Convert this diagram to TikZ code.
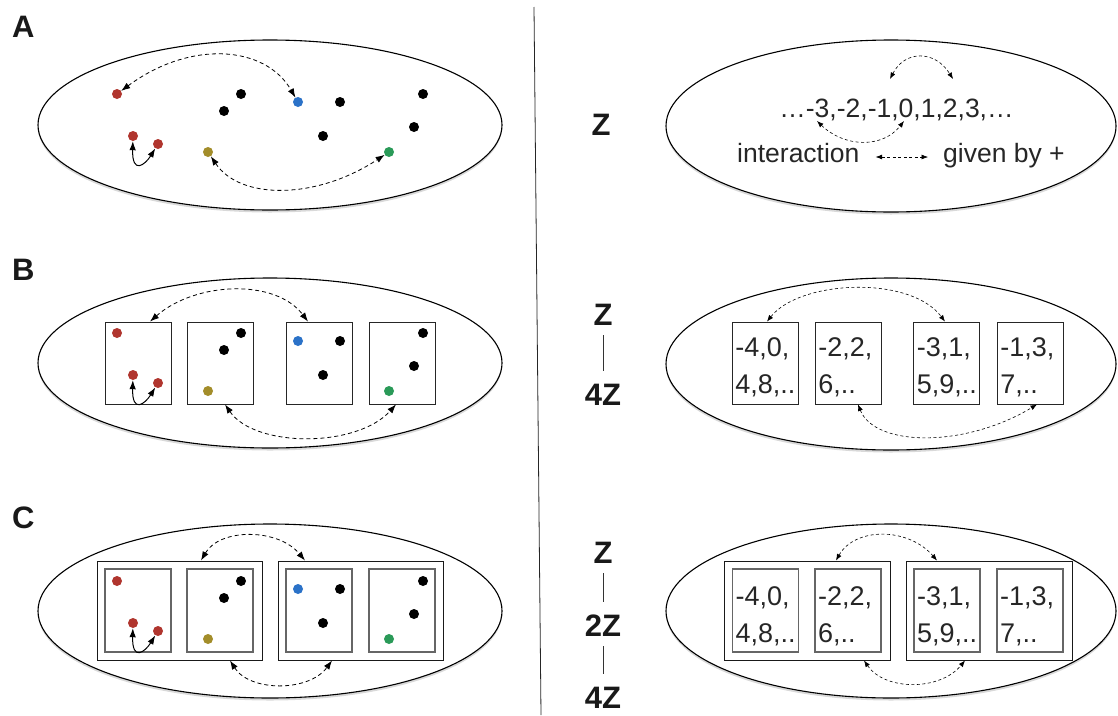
\documentclass[tikz,border=0pt]{standalone}
\usepackage{fontspec}
\setmainfont{Liberation Sans}
\usetikzlibrary{arrows.meta,shapes.geometric,shadows}
\definecolor{dred}{HTML}{B0352E}
\definecolor{dblue}{HTML}{2B72C8}
\definecolor{dolive}{HTML}{A38D2A}
\definecolor{dgreen}{HTML}{2A9A58}
\begin{document}
\begin{tikzpicture}[x=1pt,y=-1pt,
  dot/.style={circle,inner sep=0pt,minimum size=10pt,draw=none},
  ell/.style={ellipse,draw=black,line width=1.1pt,fill=white,inner sep=0pt,
    drop shadow={shadow xshift=0pt,shadow yshift=-2.5pt,opacity=0.3}},
  pbox/.style={rectangle,draw=black!85,line width=0.9pt,minimum width=66pt,minimum height=82pt,inner sep=0pt},
  obox/.style={rectangle,draw=black!90,line width=1pt,minimum width=165pt,minimum height=99pt,inner sep=0pt},
  ibox/.style={rectangle,draw=black!60,line width=1.3pt,minimum width=66pt,minimum height=83pt,inner sep=0pt},
  numtxt/.style={anchor=west,align=left,inner sep=0pt,text=black!85,font=\fontsize{27}{37}\selectfont},
  seqtxt/.style={inner sep=0pt,text=black!85,font=\fontsize{26.5}{31}\selectfont},
  lbl/.style={inner sep=0pt,anchor=base west,text=black!90,font=\fontsize{31}{36}\selectfont\bfseries},
  zl/.style={inner sep=0pt,anchor=base,text=black!90,font=\fontsize{31}{36}\selectfont\bfseries},
  zline/.style={line width=0.8pt,black!80,shorten <=10pt,shorten >=12pt},
  darrL/.style={dash pattern=on 4pt off 3pt,line width=0.8pt,{Latex[length=9pt,width=6.5pt]}-{Latex[length=9pt,width=6.5pt]}},
  darrR/.style={dash pattern=on 3pt off 2.5pt,line width=0.6pt,{Latex[length=6.5pt,width=5pt]}-{Latex[length=6.5pt,width=5pt]}},
  sarr/.style={line width=1pt,{Latex[length=9pt,width=6.5pt]}-{Latex[length=9pt,width=6.5pt]}}
]
\useasboundingbox (0,0) rectangle (1118,715);

% divider
\draw[line width=0.8pt,black!85] (534,7) -- (541,715);

% panel labels
\node[lbl] (LA) at (12,37) {A};
\node[lbl] (LB) at (12,280) {B};
\node[lbl] (LC) at (12,528) {C};

% ellipses
\node[ell,minimum width=464pt,minimum height=170pt] (eA) at (270,125) {};
\node[ell,minimum width=464pt,minimum height=170pt] (eB) at (270,363) {};
\node[ell,minimum width=464pt,minimum height=174pt] (eC) at (270,611) {};
\node[ell,minimum width=450pt,minimum height=172pt] (fA) at (891,126) {};
\node[ell,minimum width=450pt,minimum height=172pt] (fB) at (891,364) {};
\node[ell,minimum width=450pt,minimum height=174pt] (fC) at (891,611) {};

% left B boxes
\node[pbox] (b1B) at (138,363) {};
\node[pbox] (b2B) at (220,363) {};
\node[pbox] (b3B) at (319,363) {};
\node[pbox] (b4B) at (402,363) {};
% left C boxes
\node[obox] (o1C) at (179.5,610.5) {};
\node[obox] (o2C) at (360.5,610.5) {};
\node[ibox] (b1C) at (138,610.5) {};
\node[ibox] (b2C) at (220,610.5) {};
\node[ibox] (b3C) at (319,610.5) {};
\node[ibox] (b4C) at (402,610.5) {};

% dots
\foreach \p/\dy in {A/0,B/239,C/487}{
  \node[dot,fill=dred] (r1\p) at (117,94+\dy) {};
  \node[dot,fill=dred] (r2\p) at (133,136+\dy) {};
  \node[dot,fill=dred] (r3\p) at (158,144+\dy) {};
  \node[dot,fill=black] (k1\p) at (241,94+\dy) {};
  \node[dot,fill=black] (k2\p) at (224,111+\dy) {};
  \node[dot,fill=dolive] (ol\p) at (208,152+\dy) {};
  \node[dot,fill=dblue] (bl\p) at (298,102+\dy) {};
  \node[dot,fill=black] (k3\p) at (340,102+\dy) {};
  \node[dot,fill=black] (k4\p) at (323,136+\dy) {};
  \node[dot,fill=black] (k5\p) at (423,94+\dy) {};
  \node[dot,fill=black] (k6\p) at (414,127+\dy) {};
  \node[dot,fill=dgreen] (gr\p) at (389,152+\dy) {};
  \draw[sarr] (r2\p) .. controls (132,175+\dy) and (145,165+\dy) .. (r3\p);
}

% left arrows
\draw[darrL] (r1A) .. controls (190,40) and (265,45) .. (blA);
\draw[darrL] (olA) .. controls (240,200) and (316,200) .. (grA);
\draw[darrL] ([xshift=12pt]b1B.north) .. controls (195,282) and (275,278) .. ([xshift=-11pt]b3B.north);
\draw[darrL] ([xshift=5pt]b2B.south) .. controls (255,448) and (357,448) .. ([xshift=-6pt]b4B.south);
\draw[darrL] ([xshift=21.5pt]o1C.north) .. controls (220,528) and (278,528) .. ([xshift=-55.5pt]o2C.north);
\draw[darrL] ([xshift=50.5pt]o1C.south) .. controls (250,692) and (309,692) .. ([xshift=-28.5pt]o2C.south);

% Z labels
\node[zl] (zA) at (601,135) {Z};
\node[zl] (zB) at (603,325) {Z};
\node[zl] (z4B) at (603,405) {4Z};
\draw[zline] (zB) -- (z4B);
\node[zl] (zC) at (603,563) {Z};
\node[zl] (z2C) at (603,636) {2Z};
\node[zl] (z4C) at (603,708) {4Z};
\draw[zline] (zC) -- (z2C);
\draw[zline] (z2C) -- (z4C);

% right A
\node[seqtxt,anchor=base] (seq) at (896.5,117) {…-3,-2,-1,0,1,2,3,…};
\coordinate (m1) at (890,79);
\coordinate (p2) at (953,79);
\coordinate (m3) at (817,121);
\coordinate (z0) at (904,121);
\draw[darrR] (m1) .. controls (905,50) and (935,50) .. (p2);
\draw[darrR] (m3) .. controls (845,148) and (883,148) .. (z0);
\node[seqtxt,anchor=base west] (inter) at (737,162) {interaction};
\node[seqtxt,anchor=base west] (given) at (943,162) {given by +};
\draw[darrR] ([xshift=16pt,yshift=5pt]inter.base east) -- ([xshift=-15pt,yshift=5pt]given.base west);

% right B boxes
\node[pbox] (q1B) at (765,363) {};
\node[pbox] (q2B) at (848,363) {};
\node[pbox] (q3B) at (946.5,363) {};
\node[pbox] (q4B) at (1030,363) {};
\node[numtxt] (t1B) at ([xshift=3.5pt,yshift=-4pt]q1B.west) {-4,0,\\4,8,..};
\node[numtxt] (t2B) at ([xshift=3.5pt,yshift=-4pt]q2B.west) {-2,2,\\6,..};
\node[numtxt] (t3B) at ([xshift=3.5pt,yshift=-4pt]q3B.west) {-3,1,\\5,9,..};
\node[numtxt] (t4B) at ([xshift=3.5pt,yshift=-4pt]q4B.west) {-1,3,\\7,..};
\draw[darrR] ([xshift=2pt]q1B.north) .. controls (800,280) and (910,275) .. ([xshift=-1.5pt]q3B.north);
\draw[darrR] ([xshift=10pt]q2B.south) .. controls (875,447) and (965,448) .. ([xshift=7pt]q4B.south);

% right C boxes
\node[obox,minimum width=166pt] (p1C) at (807,610.5) {};
\node[obox,minimum width=166pt] (p2C) at (989,610.5) {};
\node[ibox] (q1C) at (765.5,610.5) {};
\node[ibox] (q2C) at (848,610.5) {};
\node[ibox] (q3C) at (947,610.5) {};
\node[ibox] (q4C) at (1030,610.5) {};
\node[numtxt] (t1C) at ([xshift=3.5pt,yshift=-5.5pt]q1C.west) {-4,0,\\4,8,..};
\node[numtxt] (t2C) at ([xshift=3.5pt,yshift=-5.5pt]q2C.west) {-2,2,\\6,..};
\node[numtxt] (t3C) at ([xshift=3.5pt,yshift=-5.5pt]q3C.west) {-3,1,\\5,9,..};
\node[numtxt] (t4C) at ([xshift=3.5pt,yshift=-5.5pt]q4C.west) {-1,3,\\7,..};
\draw[darrR] ([xshift=29pt]p1C.north) .. controls (855,527) and (908,527) .. ([xshift=-52pt]p2C.north);
\draw[darrR] ([xshift=57pt]p1C.south) .. controls (885,691) and (940,691) .. ([xshift=-24pt]p2C.south);
\end{tikzpicture}
\end{document}
